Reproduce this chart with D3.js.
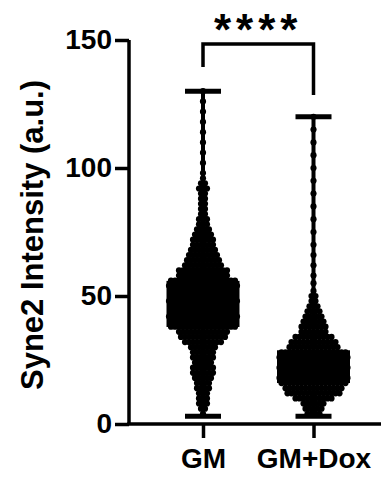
<!DOCTYPE html>
<html>
<head>
<meta charset="utf-8">
<script src="https://cdn.jsdelivr.net/npm/d3@7"></script>
<style>
  body { margin: 0; background: #fff; }
  svg { display: block; }
</style>
</head>
<body>
<div id="chart"></div>
<script>
// groups on the x axis
const categories = ["GM", "GM+Dox"];

// box plot summary: [min, q1, q3, max]
const gmBox = [3, 37.9, 55.9, 130];
const doxBox = [3, 16, 28.8, 120];

// swarm rows: value and number of dots in that row
const gmRowValues = [4, 6, 8, 10, 12, 14, 16, 18, 20, 22, 24, 26, 28, 30, 32, 34, 36,
  38, 40, 42, 44, 46, 48, 50, 52, 54, 56, 58, 60, 62, 64, 66, 68, 70, 72, 74, 76, 78,
  80, 82, 84, 86, 88, 90, 92, 94, 96, 98, 102, 106, 110, 114, 118, 122, 126, 130];
const gmRowCounts = [1, 2, 3, 3, 3, 4, 4, 5, 6, 6, 5, 6, 6, 7, 10, 12, 13,
  17, 17, 18, 17, 17, 18, 17, 17, 18, 17, 13, 13, 10, 9, 8, 7, 6, 6, 5, 4, 3,
  3, 2, 2, 2, 2, 2, 3, 2, 1, 1, 1, 1, 1, 1, 1, 1, 1, 1];

const doxRowValues = [4, 6, 8, 10, 12, 14, 16, 18, 20, 22, 24, 26, 28, 30, 32, 34, 36,
  38, 40, 42, 44, 46, 48, 50, 52, 55, 58, 62, 66, 70, 75, 80, 85, 90, 95, 100, 105,
  110, 115, 120];
const doxRowCounts = [4, 5, 6, 10, 14, 15, 17, 18, 17, 18, 17, 18, 17, 13, 12, 10, 7,
  7, 6, 5, 4, 3, 2, 2, 1, 1, 1, 1, 1, 1, 1, 1, 1, 1, 1, 1, 1,
  1, 1, 1];

const yTicks = [0, 50, 100, 150];
const yLabel = "Syne2 Intensity (a.u.)";
const sigLabel = "****";

const width = 381, height = 478;
const FONT = "'Liberation Sans', Arial, sans-serif";
const DOT_R = 3.1;
const DOT_GAP = 4;

const svg = d3.select("#chart").append("svg")
  .attr("width", width)
  .attr("height", height)
  .attr("viewBox", [0, 0, width, height]);

const y = d3.scaleLinear().domain([0, 150]).range([424, 40]);
const x = d3.scalePoint().domain(categories).range([203, 313.5]);

const groups = [
  { name: categories[0], box: gmBox, rows: d3.zip(gmRowValues, gmRowCounts) },
  { name: categories[1], box: doxBox, rows: d3.zip(doxRowValues, doxRowCounts) }
];

// whiskers + caps
groups.forEach(g => {
  const cx = x(g.name);
  svg.append("line")
    .attr("x1", cx).attr("x2", cx)
    .attr("y1", y(g.box[0])).attr("y2", y(g.box[3]))
    .attr("stroke", "#000").attr("stroke-width", 4);
  [g.box[0], g.box[3]].forEach(v => {
    svg.append("line")
      .attr("x1", cx - 18).attr("x2", cx + 18)
      .attr("y1", y(v)).attr("y2", y(v))
      .attr("stroke", "#000").attr("stroke-width", 5);
  });
});

// dots, laid out row by row like a swarm
groups.forEach(g => {
  const cx = x(g.name);
  const pts = [];
  g.rows.forEach(([v, n]) => {
    for (let i = 0; i < n; i++) pts.push({ v, dx: (i - (n - 1) / 2) * DOT_GAP });
  });
  svg.append("g").selectAll("circle")
    .data(pts)
    .join("circle")
    .attr("cx", d => cx + d.dx)
    .attr("cy", d => y(d.v))
    .attr("r", DOT_R)
    .attr("fill", "#000");
});

// boxes
groups.forEach(g => {
  const cx = x(g.name);
  svg.append("rect")
    .attr("x", cx - 36.5)
    .attr("width", 73)
    .attr("y", y(g.box[2]))
    .attr("height", y(g.box[1]) - y(g.box[2]))
    .attr("fill", "#000");
});

// y axis
const yAxis = svg.append("g")
  .attr("transform", "translate(129,0)")
  .call(d3.axisLeft(y).tickValues(yTicks).tickSize(14).tickPadding(3));
yAxis.select(".domain").attr("stroke-width", 3.5).attr("d", `M0,${y(150)}V${y(0)}`);
yAxis.selectAll(".tick line").attr("stroke-width", 3.5);
yAxis.selectAll(".tick text")
  .attr("font-family", FONT).attr("font-weight", "bold")
  .attr("font-size", 28).attr("fill", "#000");

// x axis
svg.append("line")
  .attr("x1", 127.25).attr("x2", width)
  .attr("y1", y(0)).attr("y2", y(0))
  .attr("stroke", "#000").attr("stroke-width", 3.5);
const xAxis = svg.append("g")
  .attr("transform", `translate(0,${y(0)})`)
  .call(d3.axisBottom(x).tickSize(14).tickPadding(10));
xAxis.select(".domain").remove();
xAxis.selectAll(".tick line").attr("stroke-width", 3.5);
xAxis.selectAll(".tick text")
  .attr("font-family", FONT).attr("font-weight", "bold")
  .attr("font-size", 28).attr("fill", "#000");

// y label
svg.append("text")
  .attr("transform", "translate(43,235) rotate(-90)")
  .attr("text-anchor", "middle")
  .attr("font-family", FONT).attr("font-weight", "bold")
  .attr("font-size", 31)
  .text(yLabel);

// significance bracket
const bx1 = x(categories[0]), bx2 = x(categories[1]);
svg.append("path")
  .attr("d", `M${bx1},67V44H${bx2}V95`)
  .attr("fill", "none").attr("stroke", "#000").attr("stroke-width", 3.5);
svg.append("text")
  .attr("x", (bx1 + bx2) / 2)
  .attr("y", 45)
  .attr("text-anchor", "middle")
  .attr("font-family", FONT).attr("font-weight", "bold")
  .attr("font-size", 44)
  .attr("letter-spacing", 5)
  .text(sigLabel);
</script>
</body>
</html>
